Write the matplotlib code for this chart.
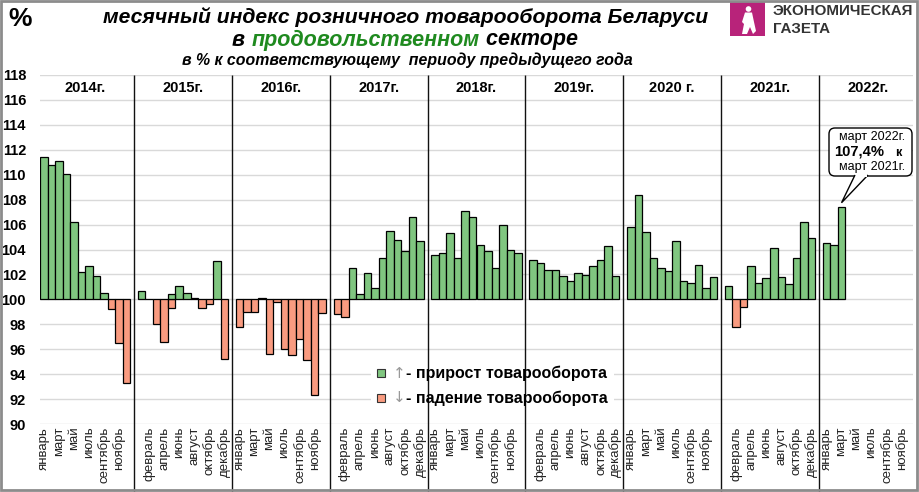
import numpy as np
import matplotlib.pyplot as plt
from matplotlib.patches import Rectangle, FancyBboxPatch, Polygon, Circle
from matplotlib.transforms import Affine2D

plt.rcParams['font.family'] = ['Liberation Sans', 'DejaVu Sans']

# ---- data ----
years = ['2014г.', '2015г.', '2016г.', '2017г.', '2018г.', '2019г.', '2020 г.', '2021г.', '2022г.']
months = ['январь', 'февраль', 'март', 'апрель', 'май', 'июнь',
          'июль', 'август', 'сентябрь', 'октябрь', 'ноябрь', 'декабрь']

v2014 = [111.4, 110.75, 111.1, 110.05, 106.2, 102.2, 102.65, 101.85, 100.55, 99.2, 96.5, 93.3]
v2015 = [100.65, 100.0, 98.0, 96.6, 99.3, 101.05, 100.55, 100.1, 99.3, 99.6, 103.05, 95.2]
v2016 = [97.8, 99.0, 98.95, 100.1, 95.6, 99.75, 96.0, 95.5, 96.8, 95.1, 92.3, 98.9]
v2017 = [98.8, 98.55, 102.55, 100.4, 102.1, 100.9, 103.35, 105.45, 104.75, 103.85, 106.6, 104.65]
v2018 = [103.55, 103.75, 105.3, 103.3, 107.05, 106.6, 104.35, 103.85, 102.5, 105.95, 103.95, 103.7]
v2019 = [103.15, 102.9, 102.35, 102.35, 101.85, 101.5, 102.1, 101.95, 102.65, 103.15, 104.25, 101.85]
v2020 = [105.8, 108.35, 105.4, 103.35, 102.55, 102.3, 104.65, 101.5, 101.3, 102.75, 100.9, 101.8]
v2021 = [101.05, 97.75, 99.35, 102.65, 101.35, 101.7, 104.15, 101.8, 101.2, 103.35, 106.2, 104.95]
v2022 = [104.5, 104.35, 107.4]
all_years = [v2014, v2015, v2016, v2017, v2018, v2019, v2020, v2021, v2022]

# extra growth bar in the source chart (май 2015)
extra_year = 1
extra_month = 4
extra_value = 100.4

green = '#80c680'
red = '#f99b80'

W, H = 919, 492
fig = plt.figure(figsize=(W / 100, H / 100), dpi=100)
pix = Affine2D().scale(1, -1).translate(0, H) + fig.dpi_scale_trans.inverted() + fig.dpi_scale_trans


def fx(x):
    return x / W


def fy(y):
    return 1 - y / H


ax = fig.add_axes([fx(40), fy(424), (913 - 40) / W, (424 - 75) / H])

# bars
step = 13
for k, vals in enumerate(all_years):
    for m, v in enumerate(vals):
        idx = k * step + m
        col = green if v >= 100 else red
        ax.bar(idx, v - 100, bottom=100, width=1.0, color=col, edgecolor='black', linewidth=0.9, zorder=2)
ax.bar(extra_year * step + extra_month, extra_value - 100, bottom=100, width=1.0,
       color=green, edgecolor='black', linewidth=0.9, zorder=2)

n_cat = 8 * step + 12
ax.set_xlim(-0.5, n_cat - 0.5)
ax.set_ylim(90, 118)
ax.set_yticks(np.arange(90, 119, 2))
ax.yaxis.grid(True, color='#d9d9d9', linewidth=1)
ax.set_axisbelow(True)
for s in ax.spines.values():
    s.set_visible(False)

ticks = list(range(0, n_cat, 2))
labels = ['' if t % step == 12 else months[t % step] for t in ticks]
ax.set_xticks(ticks)
ax.set_xticklabels(labels, rotation=90, fontsize=9.5, color='#222222')
ax.tick_params(axis='x', length=0, pad=2)
ax.tick_params(axis='y', length=0, pad=10, labelsize=10.5)
for t in ax.get_yticklabels():
    t.set_fontweight('bold')

# year separators
for k in range(8):
    ax.vlines(k * step + 12, -0.195, 1, transform=ax.get_xaxis_transform(),
              color='#111111', linewidth=1, clip_on=False, zorder=3)

# year captions
for k, y in enumerate(years):
    ax.text(k * step + 5.5, 0.963, y, transform=ax.get_xaxis_transform(),
            ha='center', va='center', fontsize=10.5, fontweight='bold')

# legend
ax.add_patch(Rectangle((fx(371), fy(410)), fx(614) - fx(371), fy(362) - fy(410),
                       transform=fig.transFigure, facecolor='white', edgecolor='none', zorder=1.5))
for yy, col, arr, txt in [(373, green, '↑', '- прирост товарооборота'),
                          (398, red, '↓', '- падение товарооборота')]:
    ax.add_patch(Rectangle((fx(377), fy(yy + 4)), 8 / W, 8 / H, transform=fig.transFigure,
                           facecolor=col, edgecolor='#333333', linewidth=0.8, zorder=4, clip_on=False))
    ax.text(fx(393), fy(yy), arr, transform=fig.transFigure, ha='left', va='center',
            fontsize=11, color='#999999', zorder=4, family=['DejaVu Sans'])
    ax.text(fx(406), fy(yy), txt, transform=fig.transFigure, ha='left', va='center',
            fontsize=11.5, fontweight='bold', zorder=4)

# titles
fig.text(fx(8), fy(19), '%', fontsize=19, fontweight='bold', ha='left', va='center')
fig.text(fx(406), fy(17), 'месячный индекс розничного товарооборота Беларуси',
         fontsize=15.2, fontweight='bold', style='italic', ha='center', va='center')
r = fig.canvas.get_renderer()
parts = [('в ', 'black'), ('продовольственном', '#1f8a1f'), (' секторе', 'black')]
tmp = [fig.text(0, 0, p, fontsize=15.5, fontweight='bold', style='italic') for p, c in parts]
widths = [t.get_window_extent(r).width for t in tmp]
for t in tmp:
    t.remove()
x0 = 405 - sum(widths) / 2
for (p, c), w in zip(parts, widths):
    fig.text(fx(x0), fy(40), p, fontsize=15.5, fontweight='bold', style='italic',
             color=c, ha='left', va='center')
    x0 += w
fig.text(fx(407), fy(60), 'в % к соответствующему  периоду предыдущего года',
         fontsize=11.4, fontweight='bold', style='italic', ha='center', va='center')

# logo
fig.add_artist(Rectangle((730, 2), 35, 34, transform=pix, facecolor='#b8237a', edgecolor='none'))
fig.add_artist(Circle((748.5, 9), 2.8, transform=pix, facecolor='white', edgecolor='none'))
fig.add_artist(Polygon([(745, 12.5), (752, 12.5), (754, 22), (756, 31), (753, 34), (750, 27),
                        (747, 34), (742, 34), (744, 24), (742, 22)],
                       transform=pix, facecolor='white', edgecolor='none'))
fig.text(fx(773), fy(11), 'ЭКОНОМИЧЕСКАЯ', fontsize=10.9, fontweight='bold', color='#333333',
         ha='left', va='center')
fig.text(fx(773), fy(29), 'ГАЗЕТА', fontsize=10.9, fontweight='bold', color='#333333',
         ha='left', va='center')

# callout for march 2022
tip = ax.transData.transform((8 * step + 2, v2022[2] + 0.35))
tip_px = (tip[0], H - tip[1])
fig.add_artist(FancyBboxPatch((829, 128), 83, 48, boxstyle='round,pad=0,rounding_size=6',
                              transform=pix, facecolor='white', edgecolor='black', linewidth=1))
fig.add_artist(Polygon([(855, 175), tip_px, (868, 175)], closed=False, transform=pix,
                       facecolor='white', edgecolor='black', linewidth=1))
fig.add_artist(Rectangle((855.7, 174), 11.6, 2.5, transform=pix, facecolor='white', edgecolor='none'))
fig.text(fx(872), fy(137), 'март 2022г.', fontsize=9, ha='center', va='center')
fig.text(fx(859), fy(152), '107,4%', fontsize=10.6, fontweight='bold', ha='center', va='center')
fig.text(fx(898), fy(153), 'к', fontsize=9, fontweight='bold', ha='center', va='center')
fig.text(fx(872), fy(167), 'март 2021г.', fontsize=9, ha='center', va='center')

# outer frame
fig.add_artist(Rectangle((1, 1), W - 3, H - 3, transform=pix, facecolor='none',
                         edgecolor='#8c8c8c', linewidth=2))

fig.savefig('out.png', dpi=100)
